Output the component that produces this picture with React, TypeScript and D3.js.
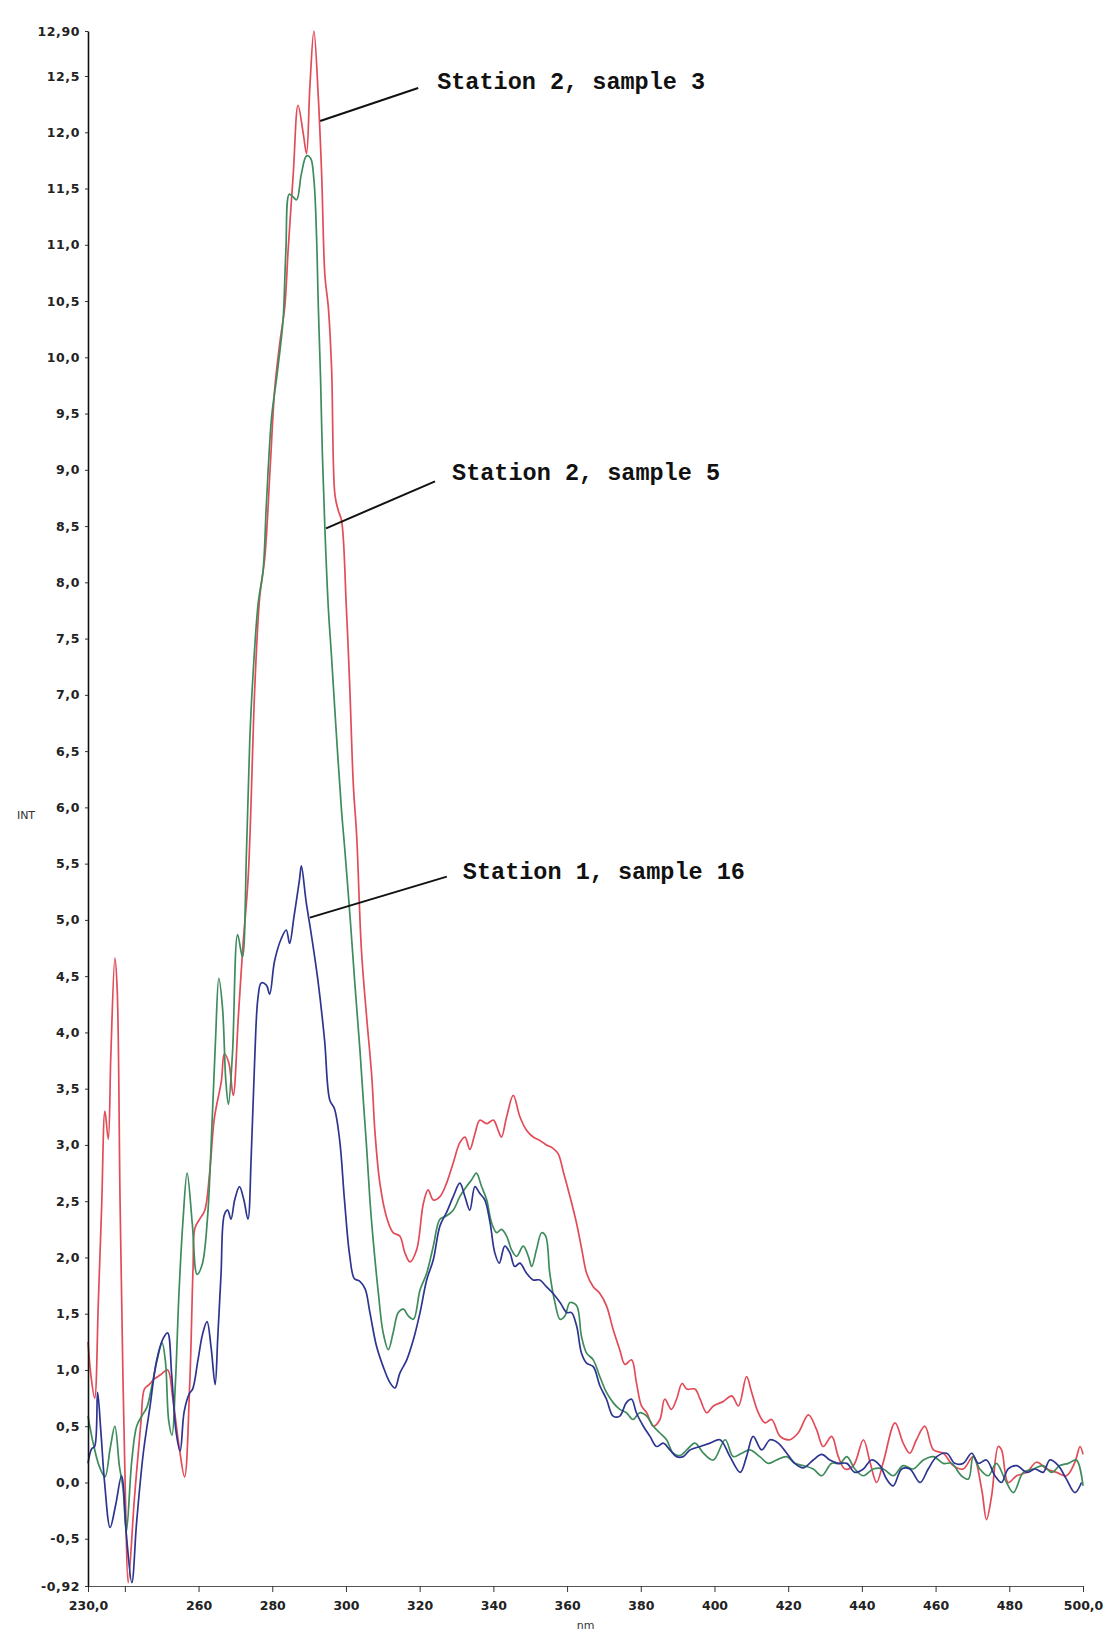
import React, { useEffect, useRef } from "react";
import * as d3 from "d3";

// wavelength (nm), intensity pairs
const station2Sample3: [number, number][] = [
  [230, 1.25], [230.8, 0.95], [231.8, 0.75], [232.8, 1.6], [233.7, 2.45], [234.6, 3.3], [235.5, 3.05],
  [236.2, 3.8], [237.3, 4.66], [237.9, 4.4], [238.7, 2.5], [239.5, 0.9], [240.2, -0.2], [240.9, -0.89],
  [242.6, -0.14], [244.4, 0.55], [245.3, 0.83], [246.6, 0.87], [248, 0.92], [249.8, 0.96], [251.6, 1.0],
  [253, 0.75], [254.8, 0.3], [256.2, 0.05], [257.6, 0.87], [258.5, 1.9], [259, 2.26], [260.3, 2.34],
  [261.7, 2.42], [263, 2.75], [264.3, 3.24], [266.2, 3.57], [267, 3.81], [268.2, 3.73], [269.4, 3.44],
  [270.8, 4.14], [272, 4.75], [273.5, 5.4], [275.3, 7.1], [276.6, 7.87], [278, 8.23], [279.4, 9.0],
  [280.7, 9.73], [282.1, 10.14], [283.4, 10.45], [284.3, 10.95], [285.7, 11.63], [287, 12.24], [288.4, 11.99],
  [289.3, 11.81], [290.2, 12.4], [291.3, 12.9], [292.5, 12.31], [293.4, 11.63], [294.3, 10.72], [295.2, 10.45],
  [296.1, 9.9], [297, 8.78], [297.9, 8.64], [298.8, 8.55], [300.1, 7.78], [301, 7.1], [302, 6.2], [302.9, 5.75],
  [304.2, 4.73], [305.6, 4.14], [307, 3.61], [307.9, 3.1], [309.2, 2.66], [311, 2.36], [312.8, 2.22],
  [314.6, 2.19], [316, 2.04], [317.4, 1.96], [319.2, 2.07], [321, 2.48], [322.3, 2.6], [323.7, 2.51],
  [325.5, 2.54], [327.3, 2.66], [329.1, 2.84], [330.9, 3.02], [332.3, 3.07], [333.6, 2.96], [335, 3.1],
  [336.3, 3.22], [338.2, 3.19], [340, 3.22], [341.3, 3.13], [342.2, 3.07], [343.6, 3.25], [345.4, 3.44],
  [347.2, 3.25], [349, 3.13], [350.8, 3.07], [352.6, 3.04], [354.4, 3.0], [356.2, 2.97], [357.6, 2.92],
  [359, 2.76], [360.8, 2.54], [362.6, 2.3], [364, 2.07], [365.3, 1.86], [367.1, 1.74], [368.9, 1.68],
  [370.7, 1.57], [372.5, 1.36], [374.3, 1.18], [375.7, 1.05], [377.5, 1.09], [378.8, 0.89], [380.2, 0.68],
  [381.6, 0.62], [383.4, 0.5], [385.2, 0.56], [386.5, 0.74], [388.3, 0.65], [389.7, 0.74], [391.2, 0.88],
  [392.5, 0.83], [394.7, 0.83], [396.1, 0.74], [397.9, 0.62], [399.7, 0.68], [402.4, 0.72], [404.7, 0.77],
  [406.5, 0.68], [408.7, 0.94], [410.1, 0.8], [411.9, 0.62], [413.7, 0.53], [415.5, 0.56], [417.8, 0.41],
  [420.5, 0.38], [422.7, 0.44], [425.5, 0.6], [427.7, 0.47], [429.5, 0.32], [431.8, 0.41], [433.6, 0.23],
  [435.4, 0.12], [437.7, 0.15], [440.4, 0.38], [442.2, 0.18], [444, 0.0], [445.8, 0.18], [449, 0.53],
  [451.2, 0.35], [453, 0.26], [454.8, 0.38], [457.1, 0.5], [459.4, 0.29], [462.1, 0.26], [464.8, 0.15],
  [467.5, 0.12], [470.2, 0.23], [472.5, -0.06], [473.8, -0.33], [475.2, -0.12], [477, 0.32], [477.9, 0.29],
  [479.7, 0.0], [482, 0.06], [484.7, 0.09], [487.4, 0.18], [490.1, 0.12], [492.8, 0.09], [495.5, 0.06],
  [497.8, 0.18], [499.2, 0.32], [500, 0.25],
];

const station2Sample5: [number, number][] = [
  [230, 0.59], [231.4, 0.35], [233, 0.15], [234.6, 0.05], [236, 0.3], [237.3, 0.5], [238.5, 0.15],
  [239.5, -0.05], [240.4, -0.44], [241.9, 0.2], [243.2, 0.5], [244.6, 0.59], [246, 0.67], [247.4, 0.87],
  [248.7, 1.08], [250.1, 1.24], [251, 1.08], [251.9, 0.55], [252.8, 0.42], [253.7, 0.87], [254.7, 1.69],
  [255.8, 2.34], [256.9, 2.75], [258.3, 2.3], [259.6, 1.85], [261, 1.94], [262.4, 2.34], [263.3, 2.91],
  [264.6, 3.93], [265.5, 4.48], [266.5, 4.22], [267.4, 3.57], [268.1, 3.36], [269.2, 3.81], [270.6, 4.87],
  [271.9, 4.67], [273, 5.6], [273.9, 6.6], [274.8, 7.19], [276.2, 7.82], [277.5, 8.1], [278.4, 8.69],
  [279.8, 9.46], [281.2, 9.82], [282.5, 10.18], [283, 10.36], [283.7, 10.95], [284.6, 11.45], [285.5, 11.43],
  [286.6, 11.4], [287.9, 11.63], [289.3, 11.79], [290.4, 11.77], [291.3, 11.58], [292, 11.09], [292.5, 10.45],
  [293.1, 9.82], [293.6, 9.14], [294.3, 8.46], [295.2, 7.78], [296.1, 7.33], [297.4, 6.65], [298.8, 5.97],
  [299.7, 5.62], [301.1, 5.03], [302.4, 4.44], [303.8, 3.84], [304.7, 3.4], [305.6, 2.98], [306.5, 2.51],
  [307.4, 2.15], [308.8, 1.68], [310.1, 1.33], [311.5, 1.18], [312.8, 1.33], [314.2, 1.51], [315.6, 1.54],
  [316.9, 1.48], [318.3, 1.45], [320.1, 1.71], [321.9, 1.86], [323.7, 2.1], [325.5, 2.34], [327.3, 2.37],
  [329.1, 2.42], [330.9, 2.54], [332.7, 2.63], [334.1, 2.69], [335.4, 2.75], [336.8, 2.63], [338.2, 2.51],
  [339.5, 2.31], [340.9, 2.22], [342.2, 2.25], [343.6, 2.19], [344.9, 2.07], [346.3, 2.01], [348.1, 2.1],
  [349.5, 2.01], [350.4, 1.92], [351.7, 2.07], [353.1, 2.22], [354.2, 2.19], [355.3, 1.86], [356.7, 1.6],
  [358.1, 1.45], [359.4, 1.48], [360.8, 1.6], [362.6, 1.57], [363.9, 1.3], [365.3, 1.15], [367.1, 1.09],
  [368.9, 0.94], [370.7, 0.8], [372.5, 0.71], [374.3, 0.65], [376.1, 0.62], [377.9, 0.56], [379.7, 0.62],
  [381.6, 0.59], [383.4, 0.5], [385.2, 0.44], [387, 0.38], [388.8, 0.26], [390.7, 0.24], [392.5, 0.29],
  [394.7, 0.35], [397, 0.26], [399.7, 0.2], [402.9, 0.38], [405.1, 0.23], [407.4, 0.26], [409.6, 0.29],
  [412.3, 0.23], [414.6, 0.17], [416.9, 0.2], [419.6, 0.23], [421.8, 0.17], [424.1, 0.15], [426.8, 0.12],
  [429.1, 0.06], [431.8, 0.17], [434.1, 0.17], [435.9, 0.23], [438.1, 0.12], [440.4, 0.06], [443.1, 0.12],
  [445.8, 0.12], [448.5, 0.06], [451.2, 0.15], [453.9, 0.12], [456.7, 0.2], [459.4, 0.23], [462.1, 0.17],
  [464.3, 0.17], [467, 0.06], [468.9, 0.03], [470.2, 0.23], [472, 0.12], [474.3, 0.06], [476.5, 0.17],
  [478.8, 0.03], [481.1, -0.09], [483.8, 0.09], [486.5, 0.12], [489.2, 0.15], [491.5, 0.09], [493.7, 0.15],
  [496, 0.17], [498.2, 0.2], [500, -0.03],
];

const station1Sample16: [number, number][] = [
  [230, 0.17], [231, 0.3], [231.8, 0.32], [232.6, 0.8], [233.5, 0.45], [234.5, 0.0], [236, -0.4],
  [237.5, -0.2], [239.1, 0.06], [240.5, -0.5], [241.9, -0.89], [243.2, -0.35], [245, 0.26], [246.8, 0.67],
  [248.6, 1.08], [250.4, 1.28], [251.6, 1.33], [252.7, 0.96], [253.9, 0.45], [255, 0.28], [256.1, 0.63],
  [257.5, 0.79], [258.4, 0.83], [259.8, 1.08], [261.1, 1.32], [262.3, 1.43], [263.4, 1.2], [264.5, 0.87],
  [265.2, 1.28], [266.1, 1.85], [267, 2.38], [267.9, 2.42], [268.8, 2.34], [269.8, 2.51], [271.1, 2.63],
  [272.3, 2.51], [273.4, 2.34], [274.3, 2.91], [275.2, 3.73], [276.1, 4.3], [277, 4.44], [278.4, 4.42],
  [279.3, 4.34], [280.6, 4.63], [282.4, 4.83], [283.8, 4.91], [284.7, 4.79], [285.9, 5.03], [287.4, 5.36],
  [287.9, 5.48], [289.2, 5.16], [290.6, 4.87], [292.4, 4.46], [294.2, 3.93], [295.6, 3.4], [296.9, 3.32],
  [298.3, 3.04], [299.6, 2.51], [301, 2.02], [302.3, 1.81], [303.7, 1.79], [305.2, 1.72], [306.5, 1.51],
  [308.3, 1.21], [310.1, 1.03], [311.9, 0.89], [313.3, 0.84], [314.6, 0.97], [316.5, 1.09], [318.3, 1.27],
  [320.1, 1.51], [321.9, 1.8], [323.7, 1.98], [325.5, 2.28], [327.3, 2.4], [329.1, 2.54], [330.9, 2.66],
  [332.3, 2.54], [333.6, 2.42], [335, 2.63], [336.3, 2.57], [337.7, 2.51], [339.1, 2.31], [340.4, 2.04],
  [341.6, 1.95], [343.1, 2.1], [344.5, 2.04], [345.8, 1.92], [347.2, 1.95], [349, 1.86], [350.8, 1.8],
  [352.6, 1.8], [354.4, 1.74], [356.2, 1.68], [358.1, 1.6], [359.9, 1.51], [361.2, 1.51], [362.6, 1.39],
  [363.9, 1.15], [365.3, 1.06], [367.1, 1.03], [368.9, 0.86], [370.7, 0.74], [372.5, 0.59], [374.3, 0.59],
  [376.1, 0.71], [377.5, 0.74], [378.8, 0.62], [380.7, 0.5], [382.5, 0.41], [384.3, 0.32], [386.1, 0.35],
  [387.9, 0.29], [389.7, 0.23], [391.5, 0.23], [393.4, 0.29], [396.1, 0.32], [398.8, 0.35], [401.5, 0.38],
  [404.2, 0.23], [407, 0.09], [408.7, 0.23], [410.5, 0.41], [412.8, 0.29], [415.1, 0.38], [417.3, 0.35],
  [419.6, 0.26], [421.8, 0.17], [424.1, 0.13], [426.8, 0.2], [429.1, 0.25], [431.3, 0.2], [433.6, 0.17],
  [435.9, 0.17], [438.1, 0.09], [440.4, 0.12], [442.6, 0.2], [444.9, 0.15], [446.7, 0.03], [448.5, -0.03],
  [450.8, 0.12], [453, 0.12], [455.8, 0.0], [458, 0.12], [460.3, 0.23], [463, 0.26], [465.2, 0.17],
  [467.5, 0.17], [469.8, 0.26], [471.6, 0.17], [473.8, 0.2], [476.1, 0.06], [477.9, 0.0], [479.7, 0.12],
  [482, 0.15], [484.7, 0.09], [487, 0.12], [489.2, 0.09], [491, 0.2], [493.3, 0.15], [495.5, 0.03],
  [497.8, -0.09], [499.6, 0.0],
];

const yTicks = [12.9, 12.5, 12, 11.5, 11, 10.5, 10, 9.5, 9, 8.5, 8, 7.5, 7, 6.5, 6, 5.5, 5, 4.5, 4, 3.5, 3, 2.5, 2, 1.5, 1, 0.5, 0, -0.5, -0.92];
const yTickLabels = ["12,90", "12,5", "12,0", "11,5", "11,0", "10,5", "10,0", "9,5", "9,0", "8,5", "8,0", "7,5", "7,0", "6,5", "6,0", "5,5", "5,0", "4,5", "4,0", "3,5", "3,0", "2,5", "2,0", "1,5", "1,0", "0,5", "0,0", "-0,5", "-0,92"];
const xTicks = [230, 240, 260, 280, 300, 320, 340, 360, 380, 400, 420, 440, 460, 480, 500];
const xTickLabels = ["230,0", "", "260", "280", "300", "320", "340", "360", "380", "400", "420", "440", "460", "480", "500,0"];

const seriesNames = ["Station 2, sample 3", "Station 2, sample 5", "Station 1, sample 16"];

// label anchors on the curves (nm, value) and pixel offsets of the leader end / text
const labelAnchors: [number, number][] = [[293.0, 12.1], [294.6, 8.48], [290.2, 5.02]];
const labelOffsets = [
  { lx: 98, ly: -33, tx: 117, ty: -32 },
  { lx: 109, ly: -47, tx: 126, ty: -48 },
  { lx: 137, ly: -41, tx: 153, ty: -39 },
];

const W = 1109;
const H = 1632;

const App = () => {
  const svgRef = useRef<SVGSVGElement>(null);

  useEffect(() => {
    const svg = d3.select(svgRef.current);
    svg.selectAll("*").remove();

    const margin = { top: 31, right: 26, bottom: 46, left: 88 };

    const x = d3.scaleLinear().domain([230, 500]).range([margin.left, W - margin.right]);
    const y = d3.scaleLinear().domain([-0.92, 12.9]).range([H - margin.bottom, margin.top]);

    const series = [
      { data: station2Sample3, color: "#e24c58" },
      { data: station2Sample5, color: "#3e8c5c" },
      { data: station1Sample16, color: "#2d3590" },
    ];

    const line = d3
      .line<[number, number]>()
      .x((d) => x(d[0]))
      .y((d) => y(d[1]))
      .curve(d3.curveCatmullRom.alpha(0.5));

    // curves
    svg
      .append("g")
      .selectAll("path")
      .data(series)
      .enter()
      .append("path")
      .attr("d", (d) => line(d.data))
      .attr("fill", "none")
      .attr("stroke", (d) => d.color)
      .attr("stroke-width", 1.7)
      .attr("stroke-linejoin", "round");

    // x axis
    const xAxis = svg
      .append("g")
      .attr("transform", `translate(0,${y(-0.92)})`)
      .call(
        d3
          .axisBottom(x)
          .tickValues(xTicks)
          .tickFormat((d, i) => xTickLabels[i])
          .tickSize(6)
          .tickSizeOuter(0)
          .tickPadding(9)
      );
    xAxis.select(".domain").attr("stroke", "#555").attr("stroke-width", 1.2);
    xAxis.selectAll(".tick line").attr("stroke", "#333");
    xAxis
      .selectAll("text")
      .attr("font-family", "DejaVu Sans, sans-serif")
      .attr("font-weight", "bold")
      .attr("font-size", 12.5)
      .attr("fill", "#222");

    // y axis
    const yAxis = svg
      .append("g")
      .attr("transform", `translate(${margin.left},0)`)
      .call(
        d3
          .axisLeft(y)
          .tickValues(yTicks)
          .tickFormat((d, i) => yTickLabels[i])
          .tickSize(3)
          .tickSizeOuter(0)
          .tickPadding(5)
      );
    yAxis.select(".domain").attr("stroke", "#111").attr("stroke-width", 1.6);
    yAxis.selectAll(".tick line").attr("stroke", "#333");
    yAxis
      .selectAll("text")
      .attr("font-family", "DejaVu Sans, sans-serif")
      .attr("font-weight", "bold")
      .attr("font-size", 12.5)
      .attr("letter-spacing", 0.6)
      .attr("fill", "#222");

    // axis titles
    svg
      .append("text")
      .attr("x", 26)
      .attr("y", 819)
      .attr("text-anchor", "middle")
      .attr("font-family", "DejaVu Sans, sans-serif")
      .attr("font-size", 11)
      .attr("fill", "#333")
      .text("INT");

    svg
      .append("text")
      .attr("x", x(365))
      .attr("y", 1629)
      .attr("text-anchor", "middle")
      .attr("font-family", "DejaVu Sans, sans-serif")
      .attr("font-size", 11)
      .attr("fill", "#333")
      .text("nm");

    // annotations
    const ann = svg.append("g");
    seriesNames.forEach((name, i) => {
      const [nm, v] = labelAnchors[i];
      const ax = x(nm);
      const ay = y(v);
      const o = labelOffsets[i];
      ann
        .append("line")
        .attr("x1", ax)
        .attr("y1", ay)
        .attr("x2", ax + o.lx)
        .attr("y2", ay + o.ly)
        .attr("stroke", "#111")
        .attr("stroke-width", 2);
      ann
        .append("text")
        .attr("x", ax + o.tx)
        .attr("y", ay + o.ty)
        .attr("font-family", "Liberation Mono, Courier New, monospace")
        .attr("font-weight", "bold")
        .attr("font-size", 23.5)
        .attr("fill", "#111")
        .text(name);
    });
  }, []);

  return (
    <div style={{ position: "absolute", left: 0, top: 0, background: "#fff" }}>
      <svg ref={svgRef} width={W} height={H} style={{ display: "block" }}></svg>
    </div>
  );
};

export default App;
